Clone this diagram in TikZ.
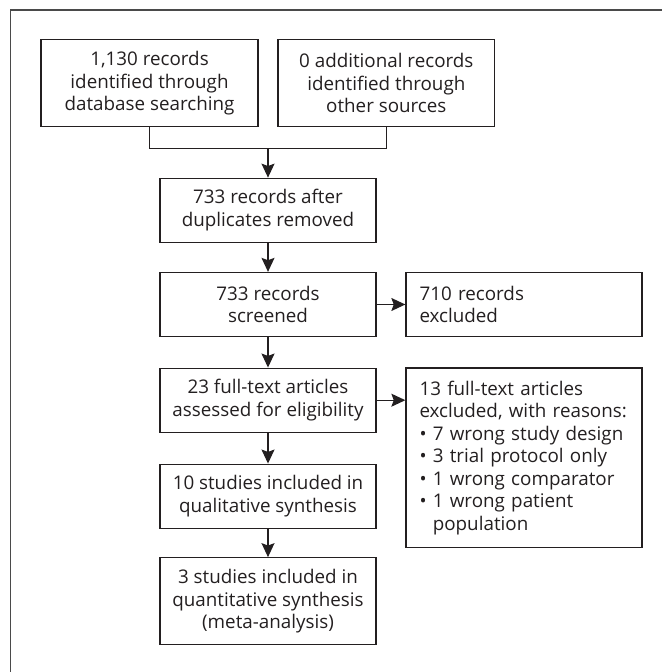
\documentclass[tikz,border=0pt]{standalone}
\usepackage{fontspec}
\setmainfont{Open Sans}
\usepackage{tikz}
\usetikzlibrary{arrows.meta,calc}
\definecolor{ink}{HTML}{231F20}
\definecolor{framegray}{HTML}{4A4A4A}

\begin{document}
\begin{tikzpicture}[x=0.5pt, y=-0.5pt,
		box/.style={draw=ink, text=ink, line width=0.65pt, inner sep=0pt, align=center,
			minimum width=108pt, minimum height=32pt, font=\fontsize{9.4pt}{11.25pt}\selectfont},
		tallbox/.style={box, minimum height=43.5pt},
		sidebox/.style={box, align=left, text width=104.5pt, inner xsep=6.75pt, minimum width=118pt},
		arr/.style={draw=ink, line width=0.65pt, -{Stealth[length=7pt, width=6.5pt, inset=1.2pt]}},
		mergeline/.style={draw=ink, line width=0.65pt}]
			\useasboundingbox (0,0) rectangle (662,672);
			\draw[framegray, line width=0.75pt] (10.7,672) -- (10.7,10) -- (662,10);
			
			\node[tallbox, minimum width=108.5pt] at (149.5,83.3) (db){1,130 records\\identified through\\database searching};
			\node[tallbox, minimum width=108.3pt] at (386.3,83.3) (other){0 additional records\\identified through\\other sources};
			\node[box] at (268,210.3) (dup){733 records after\\duplicates removed};
			\node[box] at (268,304.5) (screen){733 records\\screened};
			\node[sidebox] at (524,304.5) (excl){710 records\\excluded};
			\node[box] at (268,400.2) (full){23 full-text articles\\assessed for eligibility};
			\node[sidebox, minimum height=89.6pt] at (524,457.7) (fullexcl){13 full-text articles\\excluded, with reasons:\\
				\textbullet~7 wrong study design\\
				\textbullet~3 trial protocol only\\
				\textbullet~1 wrong comparator\\
				\textbullet~1 wrong patient\\
				\phantom{\textbullet~}population};
			\node[box] at (268,496.2) (qual){10 studies included in\\qualitative synthesis};
			\node[tallbox] at (268,601.3) (quant){3 studies included in\\quantitative synthesis\\(meta-analysis)};
			
			\coordinate (merge) at (268,148.3);
			\draw[mergeline] (db.south) |- (merge) -| (other.south);
			\draw[arr] (merge) -- (dup);
			\draw[arr] (dup) -- (screen);
			\draw[arr] (screen) -- (excl);
			\draw[arr] (screen) -- (full);
			\draw[arr] (full) -- (full -| fullexcl.west);
			\draw[arr] (full) -- (qual);
			\draw[arr] (qual) -- (quant);
			\end{tikzpicture}
\end{document}
